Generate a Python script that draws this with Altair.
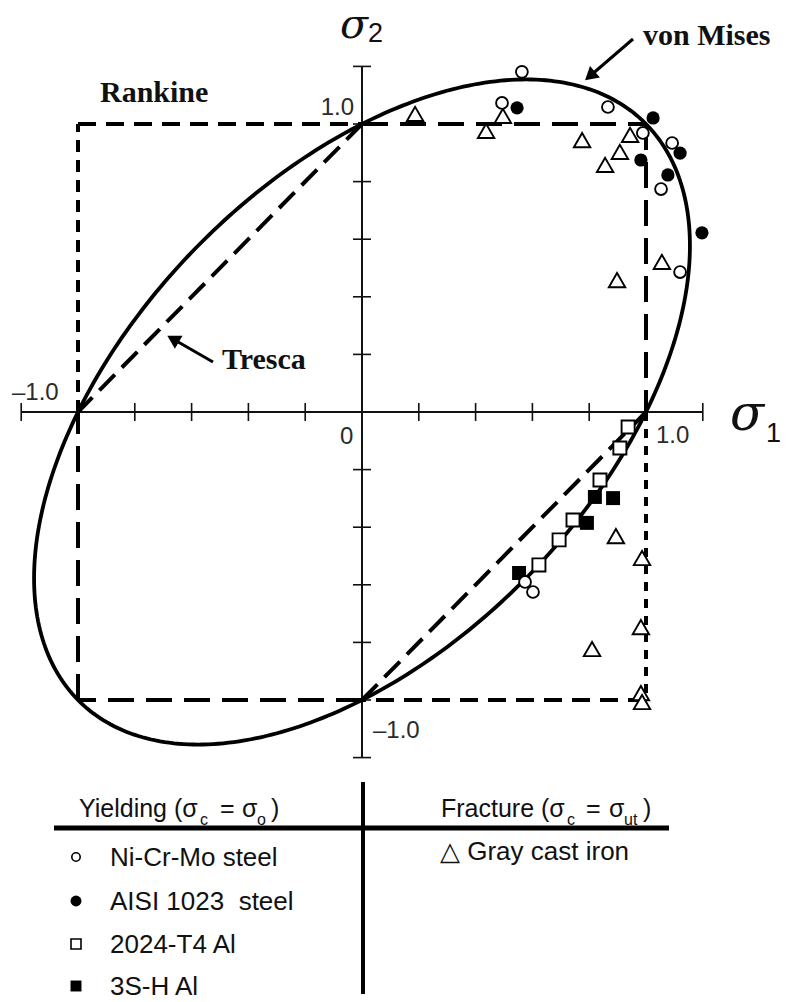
import numpy as np
import pandas as pd
import altair as alt

# ---------------- data: biaxial failure stresses, sigma / sigma_c ----------------
ni_cr_mo_s1 = [0.563, 0.493, 0.866, 0.989, 1.092, 1.053, 1.120, 0.574, 0.602]
ni_cr_mo_s2 = [1.181, 1.073, 1.059, 0.969, 0.934, 0.774, 0.486, -0.590, -0.625]

aisi_1023_s1 = [0.546, 1.025, 0.982, 1.120, 1.077, 1.197]
aisi_1023_s2 = [1.056, 1.021, 0.875, 0.899, 0.823, 0.622]

al_2024_t4_s1 = [0.937, 0.908, 0.838, 0.743, 0.694, 0.623]
al_2024_t4_s2 = [-0.052, -0.125, -0.236, -0.375, -0.444, -0.531]

al_3s_h_s1 = [0.820, 0.884, 0.792, 0.553]
al_3s_h_s2 = [-0.295, -0.299, -0.385, -0.559]

cast_iron_s1 = [0.187, 0.437, 0.496, 0.775, 0.944, 0.908, 0.856, 1.056, 0.898,
                0.894, 0.986, 0.982, 0.810, 0.982, 0.986]
cast_iron_s2 = [1.035, 0.976, 1.028, 0.944, 0.962, 0.903, 0.858, 0.521, 0.458,
                -0.431, -0.507, -0.747, -0.823, -0.976, -1.007]

yield_names = ["Ni-Cr-Mo steel", "AISI 1023\u00a0 steel", "2024-T4 Al", "3S-H Al"]
fracture_name = "Gray cast iron"

tick_values = [-1.2, -1.0, -0.8, -0.6, -0.4, -0.2, 0.2, 0.4, 0.6, 0.8, 1.0, 1.2]

# ---------------- geometry of the canvas ----------------
W, H = 797, 1002
OX, OY = 362, 412       # pixel location of the origin
KX, KY = 284, 288       # pixels per unit stress ratio

xscale = alt.Scale(domain=[(0 - OX) / KX, (W - OX) / KX], nice=False, zero=False)
yscale = alt.Scale(domain=[(OY - H) / KY, OY / KY], nice=False, zero=False)


def X(field):
    return alt.X(field, type="quantitative", scale=xscale, axis=None)


def Y(field):
    return alt.Y(field, type="quantitative", scale=yscale, axis=None)


layers = []

# ---------------- coordinate axes crossing at the origin ----------------
axes_df = pd.DataFrame({"a": [-1.2], "b": [1.2], "z": [0.0]})
layers.append(
    alt.Chart(axes_df).mark_rule(color="#111", strokeWidth=2)
    .encode(x=X("a"), x2="b", y=Y("z"))
)
layers.append(
    alt.Chart(axes_df).mark_rule(color="#111", strokeWidth=2)
    .encode(y=Y("a"), y2="b", x=X("z"))
)
tx = 9 / KY
ty = 9 / KX
ticks_df = pd.DataFrame({"v": tick_values})
layers.append(
    alt.Chart(ticks_df).mark_rule(color="#111", strokeWidth=1.6)
    .transform_calculate(lo=f"-{tx}", hi=f"{tx}")
    .encode(x=X("v"), y=Y("lo:Q"), y2="hi:Q")
)
layers.append(
    alt.Chart(ticks_df).mark_rule(color="#111", strokeWidth=1.6)
    .transform_calculate(lo=f"-{ty}", hi=f"{ty}")
    .encode(y=Y("v"), x=X("lo:Q"), x2="hi:Q")
)

# ---------------- Rankine square and Tresca hexagon, edge by edge ----------------
edges = [
    # (name, start, end, dash style)
    ("r_top", (-1, 1), (0, 1), "rank_h"),
    ("t_top", (0, 1), (1, 1), "tresca"),
    ("t_right", (1, 1), (1, 0), "tresca"),
    ("r_right", (1, 0), (1, -1), "rank_v"),
    ("r_bottom", (1, -1), (0, -1), "rank_h"),
    ("t_bottom", (0, -1), (-1, -1), "tresca"),
    ("t_left", (-1, -1), (-1, 0), "tresca"),
    ("r_left", (-1, 0), (-1, 1), "rank_v2"),
    ("t_diag1", (0, 1), (-1, 0), "diag"),
    ("t_diag2", (0, -1), (1, 0), "diag"),
]
rows = []
for name, p0, p1, style in edges:
    rows.append({"seg": name, "style": style, "i": 0, "s1": p0[0], "s2": p0[1]})
    rows.append({"seg": name, "style": style, "i": 1, "s1": p1[0], "s2": p1[1]})
edge_df = pd.DataFrame(rows)
dash_scale = alt.Scale(
    domain=["rank_h", "rank_v", "rank_v2", "tresca", "diag"],
    range=[[18, 10], [9, 8], [12, 8], [26, 12], [22, 10]],
)
layers.append(
    alt.Chart(edge_df).mark_line(color="black", strokeWidth=4)
    .encode(x=X("s1"), y=Y("s2"), detail="seg:N", order="i:Q",
            strokeDash=alt.StrokeDash("style:N", scale=dash_scale, legend=None))
)

# ---------------- von Mises ellipse: s1^2 - s1*s2 + s2^2 = 1 ----------------
t = np.linspace(0, 2 * np.pi, 361)
mises = pd.DataFrame({
    "s1": np.cos(t) + np.sin(t) / np.sqrt(3),
    "s2": np.cos(t) - np.sin(t) / np.sqrt(3),
    "i": np.arange(len(t)),
})
layers.append(
    alt.Chart(mises).mark_line(color="black", strokeWidth=3.8)
    .encode(x=X("s1"), y=Y("s2"), order="i:Q")
)

# ---------------- test data ----------------
def points(s1, s2, **mark):
    df = pd.DataFrame({"s1": s1, "s2": s2})
    return alt.Chart(df).mark_point(**mark).encode(x=X("s1"), y=Y("s2"))


layers.append(points(cast_iron_s1, cast_iron_s2, shape="triangle-up", size=270,
                     filled=True, fill="white", stroke="black", strokeWidth=1.9, opacity=1))
layers.append(points(al_2024_t4_s1, al_2024_t4_s2, shape="square", size=170,
                     filled=True, fill="white", stroke="black", strokeWidth=1.9, opacity=1))
layers.append(points(al_3s_h_s1, al_3s_h_s2, shape="square", size=195,
                     filled=True, fill="black", strokeWidth=0, opacity=1))
layers.append(points(ni_cr_mo_s1, ni_cr_mo_s2, shape="circle", size=140,
                     filled=True, fill="white", stroke="black", strokeWidth=1.9, opacity=1))
layers.append(points(aisi_1023_s1, aisi_1023_s2, shape="circle", size=175,
                     filled=True, fill="black", strokeWidth=0, opacity=1))

# ---------------- annotations ----------------
def text(s, px, py, size, font="Liberation Sans", weight="normal", style="normal",
         align="left", color="#111"):
    return alt.Chart(pd.DataFrame({"t": [s]})).mark_text(
        font=font, fontSize=size, fontWeight=weight, fontStyle=style,
        align=align, baseline="alphabetic", color=color,
    ).encode(x=alt.value(px), y=alt.value(py), text="t:N")


def arrow(x0, y0, x1, y1, angle):
    seg = alt.Chart(pd.DataFrame({"k": [0]})).mark_rule(color="black", strokeWidth=3).encode(
        x=alt.value(x0), y=alt.value(y0), x2=alt.value(x1), y2=alt.value(y1))
    head = alt.Chart(pd.DataFrame({"k": [0]})).mark_point(
        shape="triangle-up", size=230, filled=True, fill="black", strokeWidth=0,
        angle=angle, opacity=1).encode(x=alt.value(x1), y=alt.value(y1))
    return [seg, head]


serif = "Liberation Serif"
layers.append(text("Rankine", 100, 102, 30, font=serif, weight="bold"))
layers.append(text("Tresca", 222, 369, 30, font=serif, weight="bold"))
layers.append(text("von Mises", 643, 45, 30, font=serif, weight="bold"))
layers += arrow(633, 39, 590, 76, 229)
layers += arrow(213, 362, 173, 339, 300)

# axis titles
layers.append(text("σ", 340, 38, 41, font="DejaVu Serif", style="italic"))
layers.append(text("2", 368, 42, 27))
layers.append(text("σ", 730, 430, 50, font="DejaVu Serif", style="italic"))
layers.append(text("1", 766, 442, 27))

# tick labels
tick_col = "#2a2a2a"
layers.append(text("1.0", 354, 115, 24, align="right", color=tick_col))
layers.append(text("–1.0", 12, 400, 24, color=tick_col))
layers.append(text("0", 340, 444, 24, color=tick_col))
layers.append(text("1.0", 656, 443, 24, color=tick_col))
layers.append(text("–1.0", 373, 738, 24, color=tick_col))

# ---------------- key table below the plot ----------------
layers.append(
    alt.Chart(pd.DataFrame({"k": [0]})).mark_rule(color="black", strokeWidth=5)
    .encode(x=alt.value(54), x2=alt.value(669), y=alt.value(828))
)
layers.append(
    alt.Chart(pd.DataFrame({"k": [0]})).mark_rule(color="black", strokeWidth=4)
    .encode(x=alt.value(363), y=alt.value(782), y2=alt.value(994))
)

# headers with subscripts
hdr = 25
sub = 16
layers.append(text("Yielding (σ", 79, 817, hdr))
layers.append(text("c", 200, 825, sub))
layers.append(text("=", 220, 817, hdr))
layers.append(text("σ", 242, 817, hdr))
layers.append(text("o", 257, 825, sub))
layers.append(text(")", 271, 817, hdr))

layers.append(text("Fracture (σ", 441, 817, hdr))
layers.append(text("c", 567, 825, sub))
layers.append(text("=", 586, 817, hdr))
layers.append(text("σ", 609, 817, hdr))
layers.append(text("ut", 624, 825, sub))
layers.append(text(")", 643, 817, hdr))

key_rows = [866, 910, 953, 995]
key_marks = [
    dict(shape="circle", size=70, filled=True, fill="white", stroke="black", strokeWidth=1.6),
    dict(shape="circle", size=120, filled=True, fill="black", strokeWidth=0),
    dict(shape="square", size=100, filled=True, fill="white", stroke="black", strokeWidth=1.6),
    dict(shape="square", size=120, filled=True, fill="black", strokeWidth=0),
]
for name, base, mk in zip(yield_names, key_rows, key_marks):
    layers.append(
        alt.Chart(pd.DataFrame({"k": [0]})).mark_point(opacity=1, **mk)
        .encode(x=alt.value(76), y=alt.value(base - 9))
    )
    layers.append(text(name, 110, base, 26))

layers.append(text("△ " + fracture_name, 440, 860, 26))

chart = alt.layer(*layers).properties(
    width=W, height=H, padding=0, autosize=alt.AutoSizeParams(type="none"),
    background="white",
).configure_view(stroke=None)

chart.save("out.html", embed_options={"renderer": "svg", "actions": False})
